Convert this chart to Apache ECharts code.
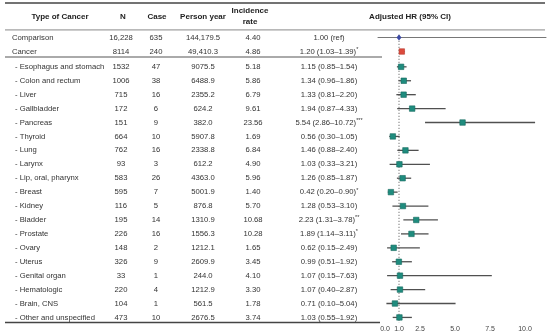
<!DOCTYPE html>
<html><head><meta charset="utf-8">
<script src="https://cdn.jsdelivr.net/npm/echarts@6/dist/echarts.min.js"></script>
<style>html,body{margin:0;padding:0;background:#fff}#c{width:550px;height:335px}</style>
</head><body><div id="c"></div>
<script>
const categories = ["Comparison","Cancer","- Esophagus and stomach","- Colon and rectum","- Liver","- Gallbladder","- Pancreas","- Thyroid","- Lung","- Larynx","- Lip, oral, pharynx","- Breast","- Kidney","- Bladder","- Prostate","- Ovary","- Uterus","- Genital organ","- Hematologic","- Brain, CNS","- Other and unspecified"];
const nValues = ["16,228","8114","1532","1006","715","172","151","664","762","93","583","595","116","195","226","148","326","33","220","104","473"];
const cases = ["635","240","47","38","16","6","9","10","16","3","26","7","5","14","16","2","9","1","4","1","10"];
const personYears = ["144,179.5","49,410.3","9075.5","6488.9","2355.2","624.2","382.0","5907.8","2338.8","612.2","4363.0","5001.9","876.8","1310.9","1556.3","1212.1","2609.9","244.0","1212.9","561.5","2676.5"];
const incidence = ["4.40","4.86","5.18","5.86","6.79","9.61","23.56","1.69","6.84","4.90","5.96","1.40","5.70","10.68","10.28","1.65","3.45","4.10","3.30","1.78","3.74"];
const hr = [1.00,1.20,1.15,1.34,1.33,1.94,5.54,0.56,1.46,1.03,1.26,0.42,1.28,2.23,1.89,0.62,0.99,1.07,1.07,0.71,1.03];
const ciLow = [null,1.03,0.85,0.96,0.81,0.87,2.86,0.30,0.88,0.33,0.85,0.20,0.53,1.31,1.14,0.15,0.51,0.15,0.40,0.10,0.55];
const ciHigh = [null,1.39,1.54,1.86,2.20,4.33,10.72,1.05,2.40,3.21,1.87,0.90,3.10,3.78,3.11,2.49,1.92,7.63,2.87,5.04,1.92];
const sig = ["","*","","","","","***","","","","","*","","**","*","","","","","",""];
const headers = ["Type of Cancer","N","Case","Person year","Incidence\nrate","Adjusted HR (95% CI)"];
const xTicks = [0,1,2.5,5,7.5,10];

const FONT = '"Liberation Sans", Arial, Helvetica, sans-serif';
const TXT = '#333';
const FS = 7.7;
// layout constants (pixel columns in table grid)
const colX = [12, 121, 156, 203, 253, 329];
const headerX = [60, 123, 157, 203, 250, 410];
function rowPos(i){ return i < 2 ? i : i + 0.1; }
function hrText(i){
  if (ciLow[i] == null) return hr[i].toFixed(2) + ' (ref)';
  return hr[i].toFixed(2) + ' (' + ciLow[i].toFixed(2) + '\u2013' + ciHigh[i].toFixed(2) + ')';
}
function fmt1(v){ return v.toFixed(1); }

const rules = [
  {pos:-2.48, x1:5, x2:545, w:1.5, c:'#444'},
  {pos:-0.55, x1:5, x2:545, w:1, c:'#888'},
  {pos:1.40, x1:5, x2:382, w:2, c:'#aaa'},
  {pos:20.47, x1:5, x2:380, w:1.5, c:'#444'}
];

const chart = echarts.init(document.getElementById('c'), null, {renderer:'canvas'});
const Y = {type:'value', inverse:true, min:-2.7, max:20.5, show:false};
chart.setOption({
  animation:false,
  grid:[
    {left:0, top:0, width:550, height:323},
    {left:378, top:0, width:168, height:323}
  ],
  xAxis:[
    {type:'value', gridIndex:0, min:0, max:550, show:false},
    {type:'value', gridIndex:1, min:-0.5, max:11.5, interval:0.5,
     axisLine:{show:true, lineStyle:{color:'#777', width:1}},
     axisTick:{show:false}, splitLine:{show:false},
     axisLabel:{interval:0, margin:3, fontSize:7, color:'#444', fontFamily:FONT,
       formatter: v => { const t = xTicks.find(k => Math.abs(k - v) < 1e-6); return t === undefined ? '' : fmt1(t); }}}
  ],
  yAxis:[Object.assign({gridIndex:0}, Y), Object.assign({gridIndex:1}, Y)],
  series:[
    { // rules
      type:'custom', xAxisIndex:0, yAxisIndex:0, clip:false, silent:true,
      data: rules.map((r,i) => [r.x1, r.pos, r.x2, i]),
      encode:{x:0, y:1},
      renderItem:(p, api) => {
        const r = rules[api.value(3)];
        const a = api.coord([r.x1, r.pos]), b = api.coord([r.x2, r.pos]);
        return {type:'line', shape:{x1:a[0], y1:a[1], x2:b[0], y2:b[1]}, style:{stroke:r.c, lineWidth:r.w}};
      }
    },
    { // headers
      type:'custom', xAxisIndex:0, yAxisIndex:0, clip:false, silent:true,
      data: headers.map((h,i) => [headerX[i], -1.5, i]),
      encode:{x:0, y:1},
      renderItem:(p, api) => {
        const i = api.value(2);
        const pt = api.coord([api.value(0), api.value(1)]);
        return {type:'text', x:pt[0], y:pt[1], style:{text:headers[i], fill:'#222',
          fontSize:8, fontWeight:'bold', fontFamily:FONT, lineHeight:11,
          textAlign:'center', textVerticalAlign:'middle', align:'center', verticalAlign:'middle'}};
      }
    },
    { // table body
      type:'custom', xAxisIndex:0, yAxisIndex:0, clip:false, silent:true,
      data: categories.map((c,i) => [0, rowPos(i), i]),
      encode:{x:0, y:1},
      renderItem:(p, api) => {
        const i = api.value(2);
        const pos = api.value(1);
        const vals = [categories[i], nValues[i], cases[i], personYears[i], incidence[i]];
        const kids = vals.map((t,c) => {
          const x = c === 0 ? (i < 2 ? colX[0] : colX[0] + 3) : colX[c];
          const pt = api.coord([x, pos]);
          return {type:'text', x:pt[0], y:pt[1], style:{text:t, fill:TXT, fontSize:FS, fontFamily:FONT,
            textAlign: c === 0 ? 'left' : 'center', align: c === 0 ? 'left' : 'center',
            textVerticalAlign:'middle', verticalAlign:'middle'}};
        });
        const pt = api.coord([colX[5], pos]);
        kids.push({type:'text', x:pt[0], y:pt[1], style:{
          text: '{a|' + hrText(i) + '}' + (sig[i] ? '{s|' + sig[i] + '}' : ''),
          rich:{a:{fontSize:FS, fontFamily:FONT, fill:TXT, color:TXT},
                s:{fontSize:5.5, fontFamily:FONT, fill:TXT, color:TXT, padding:[0,0,4,0]}},
          textAlign:'center', align:'center', textVerticalAlign:'middle', verticalAlign:'middle'}});
        return {type:'group', children:kids};
      }
    },
    { // reference dotted line at HR = 1
      type:'custom', xAxisIndex:1, yAxisIndex:1, clip:false, silent:true,
      data:[[1, -0.2, 20.5]], encode:{x:0, y:1},
      renderItem:(p, api) => {
        const a = api.coord([api.value(0), api.value(1)]), b = api.coord([api.value(0), api.value(2)]);
        return {type:'line', shape:{x1:a[0], y1:a[1], x2:b[0], y2:b[1]},
          style:{stroke:'#555', lineWidth:1, lineDash:[1,2]}};
      }
    },
    { // forest
      type:'custom', xAxisIndex:1, yAxisIndex:1, clip:false, silent:true,
      data: hr.map((v,i) => [v, rowPos(i), ciLow[i] == null ? v : ciLow[i], ciHigh[i] == null ? v : ciHigh[i], i]),
      encode:{x:[0,2,3], y:1},
      renderItem:(p, api) => {
        const i = api.value(4);
        const c = api.coord([api.value(0), api.value(1)]);
        const lo = api.coord([api.value(2), api.value(1)]);
        const hi = api.coord([api.value(3), api.value(1)]);
        const kids = [];
        if (ciLow[i] != null) {
          kids.push({type:'line', shape:{x1:lo[0], y1:lo[1], x2:hi[0], y2:hi[1]}, style:{stroke:'#505050', lineWidth:1.3}});
        }
        if (i === 0) {
          const s = 3;
          kids.push({type:'polygon', shape:{points:[[c[0], c[1]-s],[c[0]+s-0.5, c[1]],[c[0], c[1]+s],[c[0]-s+0.5, c[1]]]},
            style:{fill:'#3d4aa6'}});
        } else {
          const s = 5.5;
          kids.push({type:'rect', shape:{x:c[0]-s/2, y:c[1]-s/2, width:s, height:s},
            style:{fill: i === 1 ? '#dc4a3c' : '#1f8c7e', stroke: i === 1 ? '#b83a2f' : '#17695f', lineWidth:0.6}});
        }
        return {type:'group', children:kids};
      }
    }
  ]
});
</script>
</body></html>
